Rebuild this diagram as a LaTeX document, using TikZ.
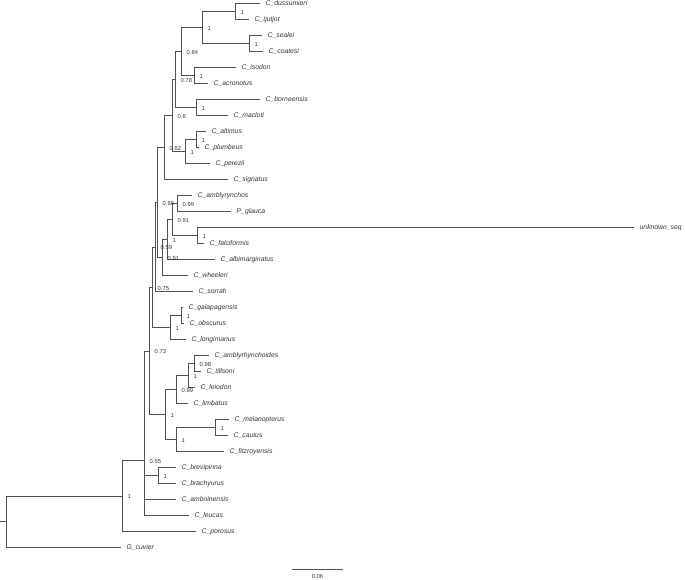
\documentclass[tikz,border=0pt]{standalone}
\usepackage{fontspec}
\setmainfont{Liberation Sans}
\begin{document}
\begin{tikzpicture}[x=1pt,y=-1pt,
  edge/.style={draw=black!68, line width=0.75pt},
  tiplab/.style={anchor=west, inner sep=0pt, font=\fontsize{6.8}{7}\selectfont\itshape, text=black!80, xshift=5.5pt},
  nodelab/.style={anchor=west, inner sep=0pt, font=\fontsize{5.8}{6}\selectfont, text=black!80, xshift=5.5pt, yshift=-0.8pt},
  scalelab/.style={inner sep=0pt, font=\fontsize{5.8}{6}\selectfont, text=black!80}]
\useasboundingbox (0,0) rectangle (685,579);
% tips
\coordinate (t1) at (260,3.5);
\coordinate (t2) at (249,19.5);
\coordinate (t3) at (262,35.5);
\coordinate (t4) at (263,51.5);
\coordinate (t5) at (236,67.5);
\coordinate (t6) at (208,83.5);
\coordinate (t7) at (260,99.5);
\coordinate (t8) at (228,115.5);
\coordinate (t9) at (206,131.5);
\coordinate (t10) at (199,147.5);
\coordinate (t11) at (210,163.5);
\coordinate (t12) at (228,179.5);
\coordinate (t13) at (192,195.5);
\coordinate (t14) at (231,211.5);
\coordinate (t15) at (634,227.5);
\coordinate (t16) at (204,243.5);
\coordinate (t17) at (215,259.5);
\coordinate (t18) at (188,275.5);
\coordinate (t19) at (193,291.5);
\coordinate (t20) at (183,307.5);
\coordinate (t21) at (184,323.5);
\coordinate (t22) at (186,339.5);
\coordinate (t23) at (209,355.5);
\coordinate (t24) at (201,371.5);
\coordinate (t25) at (195,387.5);
\coordinate (t26) at (188,403.5);
\coordinate (t27) at (229,419.5);
\coordinate (t28) at (228,435.5);
\coordinate (t29) at (224,451.5);
\coordinate (t30) at (176,467.5);
\coordinate (t31) at (176,483.5);
\coordinate (t32) at (176,499.5);
\coordinate (t33) at (189,515.5);
\coordinate (t34) at (196,531.5);
\coordinate (t35) at (121,547.5);
% internal nodes
\coordinate (ndt) at (235,11.5);
\coordinate (nsc) at (249,43.5);
\coordinate (nA) at (202,27.5);
\coordinate (nia) at (194,75.5);
\coordinate (nAi) at (181,51.5);
\coordinate (nbm) at (196,107.5);
\coordinate (n75) at (175,79.5);
\coordinate (nap) at (196,139.5);
\coordinate (n85) at (185,151.5);
\coordinate (n72) at (172,115.5);
\coordinate (n164) at (164,147.5);
\coordinate (nag) at (177,203.5);
\coordinate (nuf) at (197,235.5);
\coordinate (n172) at (172,219.5);
\coordinate (n168) at (167,239.5);
\coordinate (n163) at (162,257.5);
\coordinate (n157) at (157,202.5);
\coordinate (n155) at (155,247);
\coordinate (ngo) at (181,315.5);
\coordinate (ngol) at (170,327.5);
\coordinate (n152) at (152,287.25);
\coordinate (nat) at (194,363.5);
\coordinate (natl) at (188,375.5);
\coordinate (natll) at (176,389.5);
\coordinate (nmc) at (215,427.5);
\coordinate (nmcf) at (176,439.5);
\coordinate (nlow) at (165,414.5);
\coordinate (n149) at (149,350.9);
\coordinate (nbb) at (158,475.5);
\coordinate (nX) at (144,460.3);
\coordinate (n122) at (122,495.9);
\coordinate (root) at (6,521.7);
\coordinate (stub) at (0,521.7);
% edges
\draw[edge] (stub) -- (root);
\draw[edge] (root) |- (n122);
\draw[edge] (root) |- (t35);
\draw[edge] (n122) |- (nX);
\draw[edge] (n122) |- (t34);
\draw[edge] (nX) |- (n149);
\draw[edge] (nX) |- (nbb);
\draw[edge] (nX) |- (t32);
\draw[edge] (nX) |- (t33);
\draw[edge] (nbb) |- (t30);
\draw[edge] (nbb) |- (t31);
\draw[edge] (n149) |- (n152);
\draw[edge] (n149) |- (nlow);
\draw[edge] (nlow) |- (natll);
\draw[edge] (nlow) |- (nmcf);
\draw[edge] (nmcf) |- (nmc);
\draw[edge] (nmcf) |- (t29);
\draw[edge] (nmc) |- (t27);
\draw[edge] (nmc) |- (t28);
\draw[edge] (natll) |- (natl);
\draw[edge] (natll) |- (t26);
\draw[edge] (natl) |- (nat);
\draw[edge] (natl) |- (t25);
\draw[edge] (nat) |- (t23);
\draw[edge] (nat) |- (t24);
\draw[edge] (n152) |- (n155);
\draw[edge] (n152) |- (ngol);
\draw[edge] (ngol) |- (ngo);
\draw[edge] (ngol) |- (t22);
\draw[edge] (ngo) |- (t20);
\draw[edge] (ngo) |- (t21);
\draw[edge] (n155) |- (n157);
\draw[edge] (n155) |- (t19);
\draw[edge] (n157) |- (n164);
\draw[edge] (n157) |- (n163);
\draw[edge] (n163) |- (n168);
\draw[edge] (n163) |- (t18);
\draw[edge] (n168) |- (n172);
\draw[edge] (n168) |- (t17);
\draw[edge] (n172) |- (nag);
\draw[edge] (n172) |- (nuf);
\draw[edge] (nag) |- (t13);
\draw[edge] (nag) |- (t14);
\draw[edge] (nuf) |- (t15);
\draw[edge] (nuf) |- (t16);
\draw[edge] (n164) |- (n72);
\draw[edge] (n164) |- (t12);
\draw[edge] (n72) |- (n75);
\draw[edge] (n72) |- (n85);
\draw[edge] (n85) |- (nap);
\draw[edge] (n85) |- (t11);
\draw[edge] (nap) |- (t9);
\draw[edge] (nap) |- (t10);
\draw[edge] (n75) |- (nAi);
\draw[edge] (n75) |- (nbm);
\draw[edge] (nbm) |- (t7);
\draw[edge] (nbm) |- (t8);
\draw[edge] (nAi) |- (nA);
\draw[edge] (nAi) |- (nia);
\draw[edge] (nia) |- (t5);
\draw[edge] (nia) |- (t6);
\draw[edge] (nA) |- (ndt);
\draw[edge] (nA) |- (nsc);
\draw[edge] (ndt) |- (t1);
\draw[edge] (ndt) |- (t2);
\draw[edge] (nsc) |- (t3);
\draw[edge] (nsc) |- (t4);
% tip labels
\node[tiplab] (L1) at (t1) {C\_dussumieri};
\node[tiplab] (L2) at (t2) {C\_tjutjot};
\node[tiplab] (L3) at (t3) {C\_sealei};
\node[tiplab] (L4) at (t4) {C\_coatesi};
\node[tiplab] (L5) at (t5) {C\_isodon};
\node[tiplab] (L6) at (t6) {C\_acronotus};
\node[tiplab] (L7) at (t7) {C\_borneensis};
\node[tiplab] (L8) at (t8) {C\_macloti};
\node[tiplab] (L9) at (t9) {C\_altimus};
\node[tiplab] (L10) at (t10) {C\_plumbeus};
\node[tiplab] (L11) at (t11) {C\_perezii};
\node[tiplab] (L12) at (t12) {C\_signatus};
\node[tiplab] (L13) at (t13) {C\_amblyrynchos};
\node[tiplab] (L14) at (t14) {P\_glauca};
\node[tiplab] (L15) at (t15) {unknown\_seq};
\node[tiplab] (L16) at (t16) {C\_falciformis};
\node[tiplab] (L17) at (t17) {C\_albimarginatus};
\node[tiplab] (L18) at (t18) {C\_wheeleri};
\node[tiplab] (L19) at (t19) {C\_sorrah};
\node[tiplab] (L20) at (t20) {C\_galapagensis};
\node[tiplab] (L21) at (t21) {C\_obscurus};
\node[tiplab] (L22) at (t22) {C\_longimanus};
\node[tiplab] (L23) at (t23) {C\_amblyrhynchoides};
\node[tiplab] (L24) at (t24) {C\_tillsoni};
\node[tiplab] (L25) at (t25) {C\_leiodon};
\node[tiplab] (L26) at (t26) {C\_limbatus};
\node[tiplab] (L27) at (t27) {C\_melanopterus};
\node[tiplab] (L28) at (t28) {C\_cautus};
\node[tiplab] (L29) at (t29) {C\_fitzroyensis};
\node[tiplab] (L30) at (t30) {C\_brevipinna};
\node[tiplab] (L31) at (t31) {C\_brachyurus};
\node[tiplab] (L32) at (t32) {C\_amboinensis};
\node[tiplab] (L33) at (t33) {C\_leucas};
\node[tiplab] (L34) at (t34) {C\_porosus};
\node[tiplab] (L35) at (t35) {G\_cuvier};
% node labels
\node[nodelab] (s1) at (ndt) {1};
\node[nodelab] (s2) at (nsc) {1};
\node[nodelab] (s3) at (nA) {1};
\node[nodelab] (s4) at (nia) {1};
\node[nodelab] (s5) at (nAi) {0.84};
\node[nodelab] (s6) at (nbm) {1};
\node[nodelab] (s7) at (n75) {0.78};
\node[nodelab] (s8) at (nap) {1};
\node[nodelab] (s9) at (n85) {1};
\node[nodelab] (s10) at (n72) {0.6};
\node[nodelab] (s11) at (n164) {0.62};
\node[nodelab] (s12) at (nag) {0.99};
\node[nodelab] (s13) at (nuf) {1};
\node[nodelab] (s14) at (n172) {0.91};
\node[nodelab] (s15) at (n168) {1};
\node[nodelab] (s16) at (n163) {0.91};
\node[nodelab] (s17) at (n157) {0.66};
\node[nodelab] (s18) at (n155) {0.59};
\node[nodelab] (s19) at (ngo) {1};
\node[nodelab] (s20) at (ngol) {1};
\node[nodelab] (s21) at (n152) {0.75};
\node[nodelab] (s22) at (nat) {0.98};
\node[nodelab] (s23) at (natl) {1};
\node[nodelab] (s24) at (natll) {0.99};
\node[nodelab] (s25) at (nmc) {1};
\node[nodelab] (s26) at (nmcf) {1};
\node[nodelab] (s27) at (nlow) {1};
\node[nodelab] (s28) at (n149) {0.73};
\node[nodelab] (s29) at (nbb) {1};
\node[nodelab] (s30) at (nX) {0.55};
\node[nodelab] (s31) at (n122) {1};
% scale bar
\coordinate (sb1) at (292,569);
\coordinate (sb2) at (343,569);
\draw[edge] (sb1) -- (sb2);
\node[scalelab] (sbl) at (317.5,576.5) {0.06};
\end{tikzpicture}
\end{document}
